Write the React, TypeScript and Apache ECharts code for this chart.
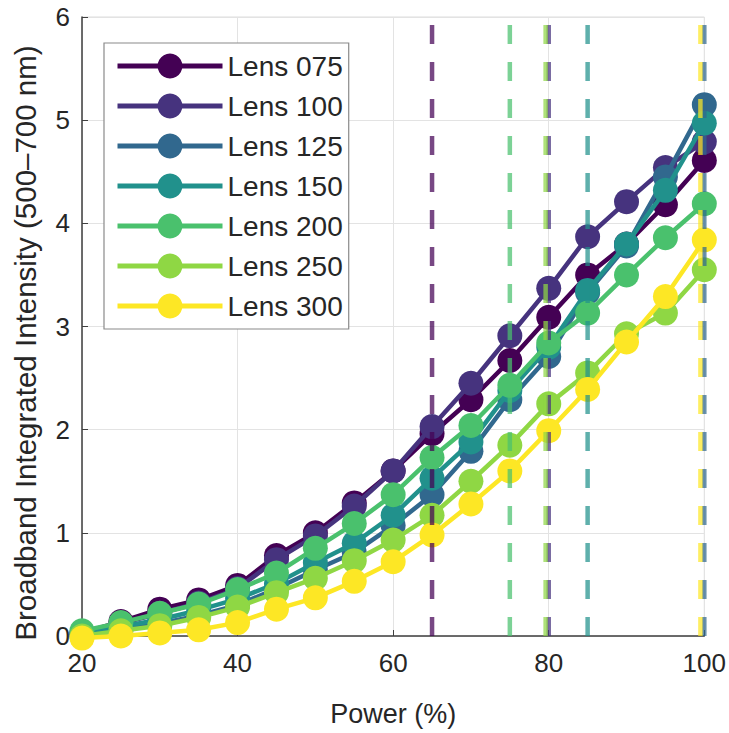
import React, { useEffect, useRef } from "react";
import * as echarts from "echarts";

const powers = [20, 25, 30, 35, 40, 45, 50, 55, 60, 65, 70, 75, 80, 85, 90, 95, 100];
const lensNames = ["Lens 075", "Lens 100", "Lens 125", "Lens 150", "Lens 200", "Lens 250", "Lens 300"];
const lensColors = ["#440154", "#46337e", "#31688e", "#21918c", "#4ac16d", "#8fd744", "#fde725"];

const lens075 = [0.03, 0.14, 0.26, 0.35, 0.49, 0.78, 1.0, 1.29, 1.6, 1.96, 2.29, 2.67, 3.09, 3.5, 3.8, 4.18, 4.61];
const lens100 = [0.02, 0.12, 0.22, 0.32, 0.46, 0.74, 0.97, 1.26, 1.6, 2.03, 2.45, 2.91, 3.37, 3.87, 4.21, 4.54, 4.79];
const lens125 = [0.0, 0.06, 0.12, 0.2, 0.3, 0.46, 0.64, 0.81, 1.07, 1.37, 1.79, 2.29, 2.71, 3.33, 3.78, 4.45, 5.15];
const lens150 = [0.02, 0.09, 0.16, 0.25, 0.36, 0.51, 0.71, 0.9, 1.17, 1.53, 1.88, 2.38, 2.8, 3.35, 3.8, 4.32, 4.97];
const lens200 = [0.05, 0.13, 0.22, 0.31, 0.45, 0.61, 0.85, 1.09, 1.37, 1.73, 2.04, 2.43, 2.84, 3.13, 3.5, 3.86, 4.19];
const lens250 = [0.0, 0.05, 0.1, 0.18, 0.28, 0.42, 0.56, 0.73, 0.93, 1.17, 1.5, 1.85, 2.25, 2.55, 2.93, 3.13, 3.55];
const lens300 = [-0.02, 0.0, 0.03, 0.06, 0.13, 0.26, 0.37, 0.53, 0.72, 0.98, 1.28, 1.6, 1.99, 2.39, 2.85, 3.29, 3.84];

const lensValues = [lens075, lens100, lens125, lens150, lens200, lens250, lens300];

// threshold power (vertical dashed line) for each lens
const thresholds = [65, 80, 100, 85, 75, 79.6, 99.5];

const xTicks = { min: 20, max: 100, interval: 20 };
const yTicks = { min: 0, max: 6, interval: 1 };

const xTitle = "Power (%)";
const yTitle = "Broadband Integrated Intensity (500\u2013700 nm)";

const FONT = "'Liberation Sans', Arial, sans-serif";
const TEXT = "#262626";

export default function App() {
  const ref = useRef<HTMLDivElement>(null);

  useEffect(() => {
    if (!ref.current) return;
    const chart = echarts.init(ref.current, null, { renderer: "svg" });

    const lensSeries = lensNames.map((name, i) => ({
      name,
      type: "line",
      data: powers.map((p, j) => [p, lensValues[i][j]]),
      symbol: "circle",
      symbolSize: 25,
      clip: false,
      z: 2 + i,
      lineStyle: { color: lensColors[i], width: 4.5 },
      itemStyle: { color: lensColors[i] },
    }));

    const dashSeries = lensNames.map((name, i) => ({
      name: name + " threshold",
      type: "line",
      data: [
        [thresholds[i], yTicks.min],
        [thresholds[i], yTicks.max],
      ],
      symbol: "none",
      silent: true,
      z: 20,
      lineStyle: { color: lensColors[i], width: 4.5, type: [19, 18], opacity: 0.72 },
    }));

    chart.setOption({
      animation: false,
      backgroundColor: "#ffffff",
      grid: {
        left: 82,
        right: 24,
        top: 17,
        bottom: 97,
        show: true,
        borderColor: "#dcdcdc",
        borderWidth: 1,
      },
      legend: {
        data: lensNames,
        orient: "vertical",
        left: 104,
        top: 43,
        padding: [9, 6, 9, 11],
        itemWidth: 105,
        itemHeight: 31,
        itemGap: 12,
        backgroundColor: "#ffffff",
        borderColor: "#8a8a8a",
        borderWidth: 1.2,
        lineStyle: { width: 5 },
        textStyle: { fontFamily: FONT, fontSize: 28, color: TEXT },
      },
      graphic: [
        {
          type: "text",
          x: 25,
          y: 343,
          rotation: Math.PI / 2,
          silent: true,
          style: {
            text: yTitle,
            fontFamily: FONT,
            fontSize: 29.5,
            fill: TEXT,
            align: "center",
            verticalAlign: "middle",
          },
        },
      ],
      xAxis: {
        type: "value",
        min: xTicks.min,
        max: xTicks.max,
        interval: xTicks.interval,
        name: xTitle,
        nameLocation: "middle",
        nameGap: 64,
        nameTextStyle: { fontFamily: FONT, fontSize: 27, color: TEXT },
        axisLine: { show: true, lineStyle: { color: "#404040", width: 1.5 } },
        axisTick: { show: true, inside: true, length: 6, lineStyle: { color: "#404040" } },
        axisLabel: { fontFamily: FONT, fontSize: 26, color: TEXT, margin: 14 },
        splitLine: { show: true, lineStyle: { color: "#e3e3e3", width: 1 } },
      },
      yAxis: {
        type: "value",
        min: yTicks.min,
        max: yTicks.max,
        interval: yTicks.interval,
        axisLine: { show: true, lineStyle: { color: "#404040", width: 1.5 } },
        axisTick: { show: true, inside: true, length: 6, lineStyle: { color: "#404040" } },
        axisLabel: { fontFamily: FONT, fontSize: 26, color: TEXT, margin: 12 },
        splitLine: { show: true, lineStyle: { color: "#e3e3e3", width: 1 } },
      },
      series: [...lensSeries, ...dashSeries],
    });

    return () => chart.dispose();
  }, []);

  return (
    <div
      ref={ref}
      style={{ position: "fixed", left: 0, top: 0, width: 729, height: 733, background: "#fff" }}
    />
  );
}
